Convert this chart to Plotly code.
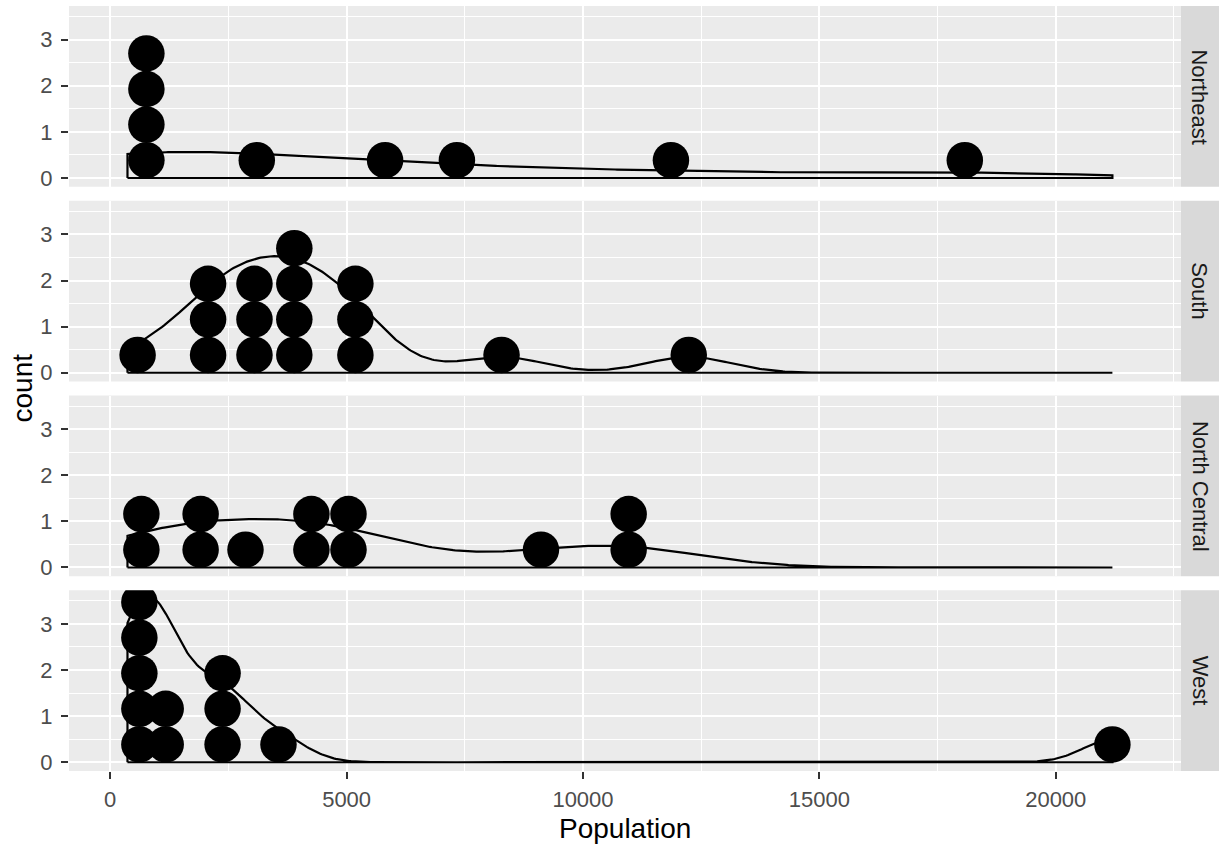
import numpy as np
import plotly.graph_objects as go

# ---- data: 1975 state populations (thousands), by region ----
regions = ["Northeast", "South", "North Central", "West"]
northeast = [3100, 1058, 5814, 812, 7333, 18076, 11860, 931, 472]
south = [3615, 2110, 579, 8277, 4931, 3387, 3806, 4122, 2341, 5441,
         2715, 2816, 4173, 12237, 4981, 1799]
north_central = [11197, 5313, 2861, 2280, 9111, 3921, 4767, 1544, 637,
                 10735, 681, 4589]
west = [365, 2212, 21198, 2541, 868, 813, 746, 590, 1144, 2284, 1203,
        3559, 376]
region_values = [northeast, south, north_central, west]

x_ticks = [0, 5000, 10000, 15000, 20000]
x_tick_labels = ["0", "5000", "10000", "15000", "20000"]
y_ticks = [0, 1, 2, 3]
y_tick_labels = ["0", "1", "2", "3"]

# ---- stat settings (as in the picture) ----
BINWIDTH = 764.0      # dot bin width (x units)
DOT_STEP = 0.772      # vertical stacking step of dots (count units)

W, H = 1225, 845
def px(x): return x / W
def py(y): return 1 - y / H

PANEL_L, PANEL_R = 69, 1181
STRIP_R = 1219
TOP0, PANEL_H, PANEL_GAP = 6.0, 180.75, 14.0
X_RANGE = [-872, 22649]
Y_RANGE = [-0.19, 3.73]

FONT = "Liberation Sans, Arial, Helvetica, sans-serif"

def dot_bins(vals, bw):
    vals = sorted(vals)
    bins, cur, end = [], [], -np.inf
    for v in vals:
        if v >= end:
            if cur:
                bins.append(cur)
            cur = [v]
            end = v + bw
        else:
            cur.append(v)
    if cur:
        bins.append(cur)
    return [((min(b) + max(b)) / 2.0, len(b)) for b in bins]

def bw_nrd0(x):
    x = np.asarray(x, float)
    hi = np.std(x, ddof=1)
    q75, q25 = np.percentile(x, [75, 25])
    lo = min(hi, (q75 - q25) / 1.34)
    return 0.9 * lo * len(x) ** -0.2

all_vals = np.concatenate([np.asarray(v, float) for v in region_values])
xmin, xmax = all_vals.min(), all_vals.max()
grid = np.linspace(xmin, xmax, 512)

fig = go.Figure()
shapes, annotations = [], []

for i, (name, vals) in enumerate(zip(regions, region_values)):
    ax = "" if i == 0 else str(i + 1)
    top = TOP0 + i * (PANEL_H + PANEL_GAP)
    bot = top + PANEL_H
    # density (count scaled by binwidth)
    v = np.asarray(vals, float)
    h = bw_nrd0(v)
    dens = np.exp(-0.5 * ((grid[:, None] - v[None, :]) / h) ** 2).sum(axis=1) / (len(v) * h * np.sqrt(2 * np.pi))
    dy = dens * len(v) * BINWIDTH
    xs = np.concatenate([[xmin], grid, [xmax, xmin]])
    ys = np.concatenate([[0], dy, [0, 0]])
    fig.add_trace(go.Scatter(x=xs, y=ys, mode="lines",
                             line=dict(color="black", width=2.2),
                             xaxis="x" + ax, yaxis="y" + ax,
                             hoverinfo="skip", showlegend=False))
    # dots
    dx, dyy = [], []
    for c, n in dot_bins(vals, BINWIDTH):
        for k in range(n):
            dx.append(c)
            dyy.append((k + 0.5) * DOT_STEP)
    fig.add_trace(go.Scatter(x=dx, y=dyy, mode="markers",
                             marker=dict(color="black", size=36.5, line=dict(width=0)),
                             xaxis="x" + ax, yaxis="y" + ax,
                             cliponaxis=True, showlegend=False))

    xa = dict(domain=[px(PANEL_L), px(PANEL_R)], range=X_RANGE, anchor="y" + ax,
              showgrid=True, gridcolor="white", gridwidth=2, zeroline=False,
              tickvals=x_ticks, ticktext=x_tick_labels,
              minor=dict(dtick=2500, tick0=0, showgrid=True, gridcolor="white",
                         gridwidth=1, ticks=""),
              showline=False, fixedrange=True, automargin=False,
              tickfont=dict(family=FONT, size=22, color="#4D4D4D"))
    if i == 3:
        xa.update(ticks="outside", ticklen=7, tickwidth=2, tickcolor="#333333",
                  showticklabels=True, ticklabelstandoff=2)
    else:
        xa.update(ticks="", showticklabels=False)
    ya = dict(domain=[py(bot), py(top)], range=Y_RANGE, anchor="x" + ax,
              showgrid=True, gridcolor="white", gridwidth=2, zeroline=False,
              tickvals=y_ticks, ticktext=y_tick_labels,
              minor=dict(dtick=0.5, tick0=0, showgrid=True, gridcolor="white",
                         gridwidth=1, ticks=""),
              ticks="outside", ticklen=7, tickwidth=2, tickcolor="#333333",
              ticklabelstandoff=4, fixedrange=True, automargin=False,
              tickfont=dict(family=FONT, size=22, color="#4D4D4D"))
    fig.update_layout(**{"xaxis" + ax: xa, "yaxis" + ax: ya})

    shapes.append(dict(type="rect", xref="paper", yref="paper",
                       x0=px(PANEL_R), x1=px(STRIP_R), y0=py(bot), y1=py(top),
                       fillcolor="#D9D9D9", line=dict(width=0), layer="below"))
    annotations.append(dict(text=name, xref="paper", yref="paper",
                            x=px((PANEL_R + STRIP_R) / 2), y=py((top + bot) / 2),
                            showarrow=False, textangle=90,
                            xanchor="center", yanchor="middle",
                            font=dict(family=FONT, size=22, color="#1A1A1A")))

annotations.append(dict(text="Population", xref="paper", yref="paper",
                        x=px((PANEL_L + PANEL_R) / 2), y=py(828),
                        showarrow=False, xanchor="center", yanchor="middle",
                        font=dict(family=FONT, size=28, color="black")))
annotations.append(dict(text="count", xref="paper", yref="paper",
                        x=px(22), y=py(388.5), textangle=-90,
                        showarrow=False, xanchor="center", yanchor="middle",
                        font=dict(family=FONT, size=28, color="black")))

fig.update_layout(width=W, height=H, margin=dict(l=0, r=0, t=0, b=0),
                  plot_bgcolor="#EBEBEB", paper_bgcolor="white",
                  shapes=shapes, annotations=annotations, showlegend=False)

fig.write_html("out.html", config={"displayModeBar": False},
               post_script="document.body.style.margin='0';document.body.style.overflow='hidden';")
